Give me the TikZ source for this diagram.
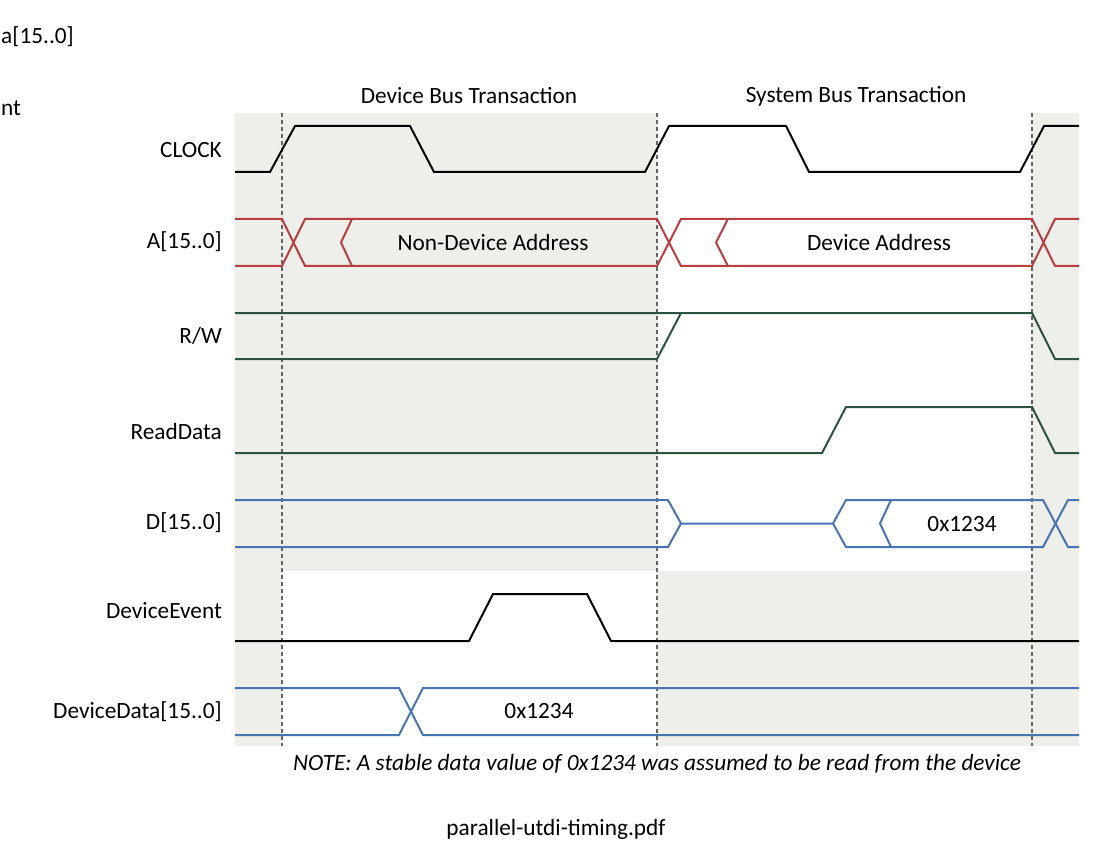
\documentclass[tikz,border=0pt]{standalone}
\usepackage{fontspec}
\setmainfont{Carlito}
\definecolor{bgc}{RGB}{238,238,234}
\definecolor{sigred}{RGB}{185,62,64}
\definecolor{siggreen}{RGB}{42,84,62}
\definecolor{sigblue}{RGB}{72,116,180}
\definecolor{dashc}{RGB}{100,100,100}
\begin{document}
\begin{tikzpicture}[x=1pt,y=-1pt,
  sig/.style={line width=2pt, line join=miter},
  guide/.style={dashc, line width=1.8pt, dash pattern=on 4pt off 3pt},
  lbl/.style={anchor=east, inner sep=0pt, font=\fontsize{23.3}{28}\selectfont},
  txt/.style={inner sep=0pt, font=\fontsize{23.3}{28}\selectfont}]
\useasboundingbox (0,0) rectangle (1100,850);
% backgrounds
\fill[bgc] (235,113) rectangle (282,746);
\fill[bgc] (282,113) rectangle (657,571);
\fill[bgc] (657,571) rectangle (1032,746);
\fill[bgc] (1032,113) rectangle (1079,746);
% guides
\foreach \gx in {282,657,1032} \draw[guide] (\gx,113) -- (\gx,746);
% headers
\node[txt] (hdev) at (469,96) {Device Bus Transaction};
\node[txt] (hsys) at (856,96) {System Bus Transaction};
% labels
\node[lbl] (lclk) at (222,150) {CLOCK};
\node[lbl] (la) at (222,242) {A[15..0]};
\node[lbl] (lrw) at (222,336) {R/W};
\node[lbl] (lrd) at (222,431) {ReadData};
\node[lbl] (ld) at (222,523) {D[15..0]};
\node[lbl] (lde) at (222,611) {DeviceEvent};
\node[lbl] (ldd) at (222,712) {DeviceData[15..0]};
% cut-off fragments
\node[txt, anchor=west] (frag1) at (1,37) {a[15..0]};
\node[txt, anchor=west] (frag2) at (1,108) {nt};
% CLOCK
\draw[sig,black] (235,172) -- (270,172) -- (295,126) -- (410,126) -- (434,172) -- (645,172) -- (669,126) -- (786,126) -- (809,172) -- (1020,172) -- (1044,126) -- (1079,126);
% A[15..0]
\draw[sig,sigred] (235,219) -- (282,219) -- (305,266) -- (657,266) -- (681,219) -- (1032,219) -- (1055,266) -- (1079,266);
\draw[sig,sigred] (235,266) -- (282,266) -- (305,219) -- (657,219) -- (681,266) -- (1032,266) -- (1055,219) -- (1079,219);
\draw[sig,sigred] (352,219) -- (341,242.5) -- (352,266);
\draw[sig,sigred] (728,219) -- (716,242.5) -- (728,266);
\node[txt] (tnda) at (493,242) {Non-Device Address};
\node[txt] (tda) at (879,242) {Device Address};
% R/W
\draw[sig,siggreen] (235,313) -- (1032,313) -- (1055,359) -- (1079,359);
\draw[sig,siggreen] (235,359) -- (657,359) -- (681,313);
% ReadData
\draw[sig,siggreen] (235,453) -- (822,453) -- (846,407) -- (1032,407) -- (1055,453) -- (1079,453);
% D[15..0]
\draw[sig,sigblue] (235,500) -- (668,500) -- (681,523.5) -- (833,523.5) -- (846,500) -- (1043,500) -- (1068,547) -- (1079,547);
\draw[sig,sigblue] (235,547) -- (668,547) -- (681,523.5);
\draw[sig,sigblue] (833,523.5) -- (846,547) -- (1043,547) -- (1068,500) -- (1079,500);
\draw[sig,sigblue] (891,500) -- (880,523.5) -- (891,547);
\node[txt] (td) at (962,524) {0x1234};
% DeviceEvent
\draw[sig,black] (235,641) -- (469,641) -- (493,594) -- (587,594) -- (611,641) -- (1079,641);
% DeviceData
\draw[sig,sigblue] (235,688) -- (399,688) -- (423,735) -- (1079,735);
\draw[sig,sigblue] (235,735) -- (399,735) -- (423,688) -- (1079,688);
\node[txt] (tdd) at (539,711) {0x1234};
% note and caption
\node[txt, font=\fontsize{23.3}{28}\selectfont\itshape] (note) at (657,764) {NOTE: A stable data value of 0x1234 was assumed to be read from the device};
\node[txt] (cap) at (556,829) {parallel-utdi-timing.pdf};
\end{tikzpicture}
\end{document}
